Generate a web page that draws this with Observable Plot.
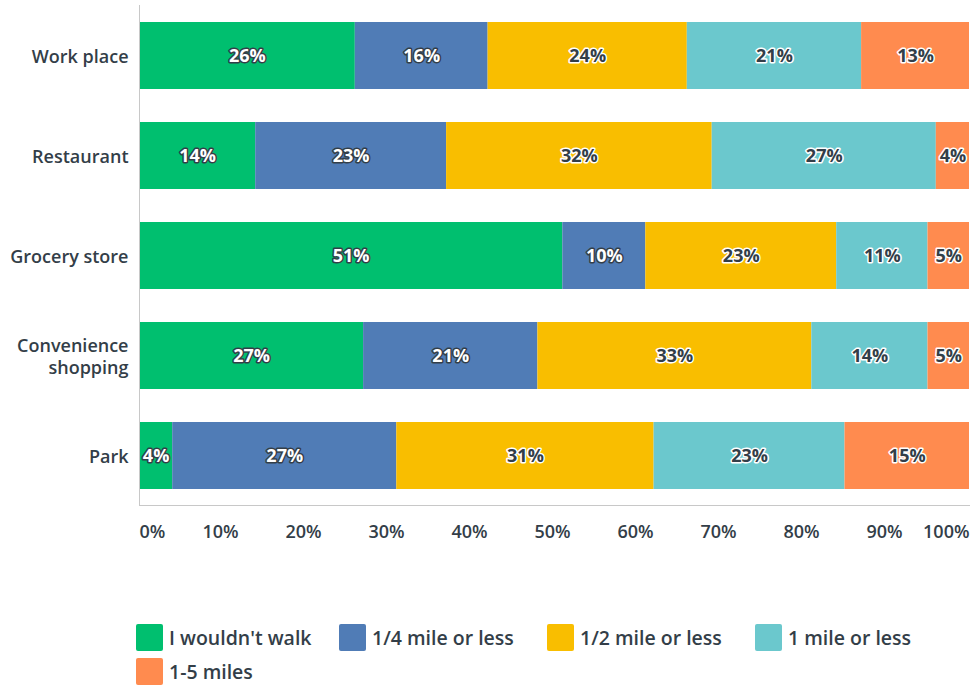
<!DOCTYPE html>
<html><head><meta charset="utf-8">
<script src="https://cdn.jsdelivr.net/npm/d3@7"></script>
<script src="https://cdn.jsdelivr.net/npm/@observablehq/plot@0.6"></script>
<style>
body{margin:0;background:#fff;font-family:"Open Sans",sans-serif;color:#333e48}
#legend{display:grid;grid-template-columns:203px 208px 208px auto;row-gap:7px;margin-left:136px;margin-top:64px}
.item{display:flex;align-items:center;gap:6px;font-size:19.5px;height:27px;font-weight:600;white-space:nowrap}
.sw{width:27px;height:27px;border-radius:2px;flex:none}
</style></head><body>
<div id="chart"></div><div id="legend"></div>
<script>
const categories = ["Work place", "Restaurant", "Grocery store", "Convenience shopping", "Park"];
const series = ["I wouldn't walk", "1/4 mile or less", "1/2 mile or less", "1 mile or less", "1-5 miles"];
const colors = ["#00bf6f", "#507cb6", "#f9be00", "#6bc8cd", "#ff8b4f"];
const wouldntWalk = [26, 14, 51, 27, 4];
const quarterMile = [16, 23, 10, 21, 27];
const halfMile = [24, 32, 23, 33, 31];
const oneMile = [21, 27, 11, 14, 23];
const oneToFive = [13, 4, 5, 5, 15];
const xTicks = [0, 10, 20, 30, 40, 50, 60, 70, 80, 90, 100];

const valuesBySeries = [wouldntWalk, quarterMile, halfMile, oneMile, oneToFive];
const data = [];
series.forEach((s, i) => categories.forEach((c, j) => data.push({category: c, series: s, si: i, value: valuesBySeries[i][j]})));

const dark = "#333e48";
const stackOpts = {x: "value", y: "category", z: "series", order: series};
const wrap = d => d.length > 14 ? d.replace(" ", "\n") : d;
const axisTxt = {tickSize: 0, tickPadding: 20, fontSize: 18, label: null, tickFormat: d => d + "%"};

const chart = Plot.plot({
  width: 972, height: 560,
  marginLeft: 139, marginRight: 3, marginTop: 5, marginBottom: 55,
  style: {fontFamily: '"Open Sans", sans-serif', fontSize: "18px", color: dark, background: "#fff", fontWeight: 600},
  x: {domain: [0, 100], axis: null},
  y: {domain: categories, paddingInner: 0.33, paddingOuter: 0.165, axis: null},
  color: {type: "identity"},
  marks: [
    Plot.barX(data, Plot.stackX({...stackOpts, fill: d => colors[d.si]})),
    Plot.text(data, Plot.stackX({...stackOpts,
      text: d => d.value + "%",
      fill: d => d.si < 2 ? "#ffffff" : dark,
      stroke: d => d.si < 2 ? dark : "#ffffff",
      strokeWidth: 3, paintOrder: "stroke", fontSize: 18, fontWeight: 700})),
    Plot.ruleX([0], {stroke: "#c8c8c8"}),
    Plot.frame({anchor: "bottom", stroke: "#c8c8c8"}),
    Plot.axisY({tickSize: 0, tickPadding: 11, fontSize: 18, lineHeight: 1.25, label: null, tickFormat: wrap}),
    Plot.axisX(xTicks.slice(0, 1), {...axisTxt, textAnchor: "start"}),
    Plot.axisX(xTicks.slice(1, -1), {...axisTxt, dx: -2}),
    Plot.axisX(xTicks.slice(-1), {...axisTxt, textAnchor: "end"})
  ]
});
document.getElementById("chart").appendChild(chart);

const legend = document.getElementById("legend");
series.forEach((s, i) => {
  const it = document.createElement("div");
  it.className = "item";
  const sw = document.createElement("span");
  sw.className = "sw";
  sw.style.background = colors[i];
  const t = document.createElement("span");
  t.textContent = s;
  it.appendChild(sw); it.appendChild(t);
  legend.appendChild(it);
});
</script>
</body></html>
